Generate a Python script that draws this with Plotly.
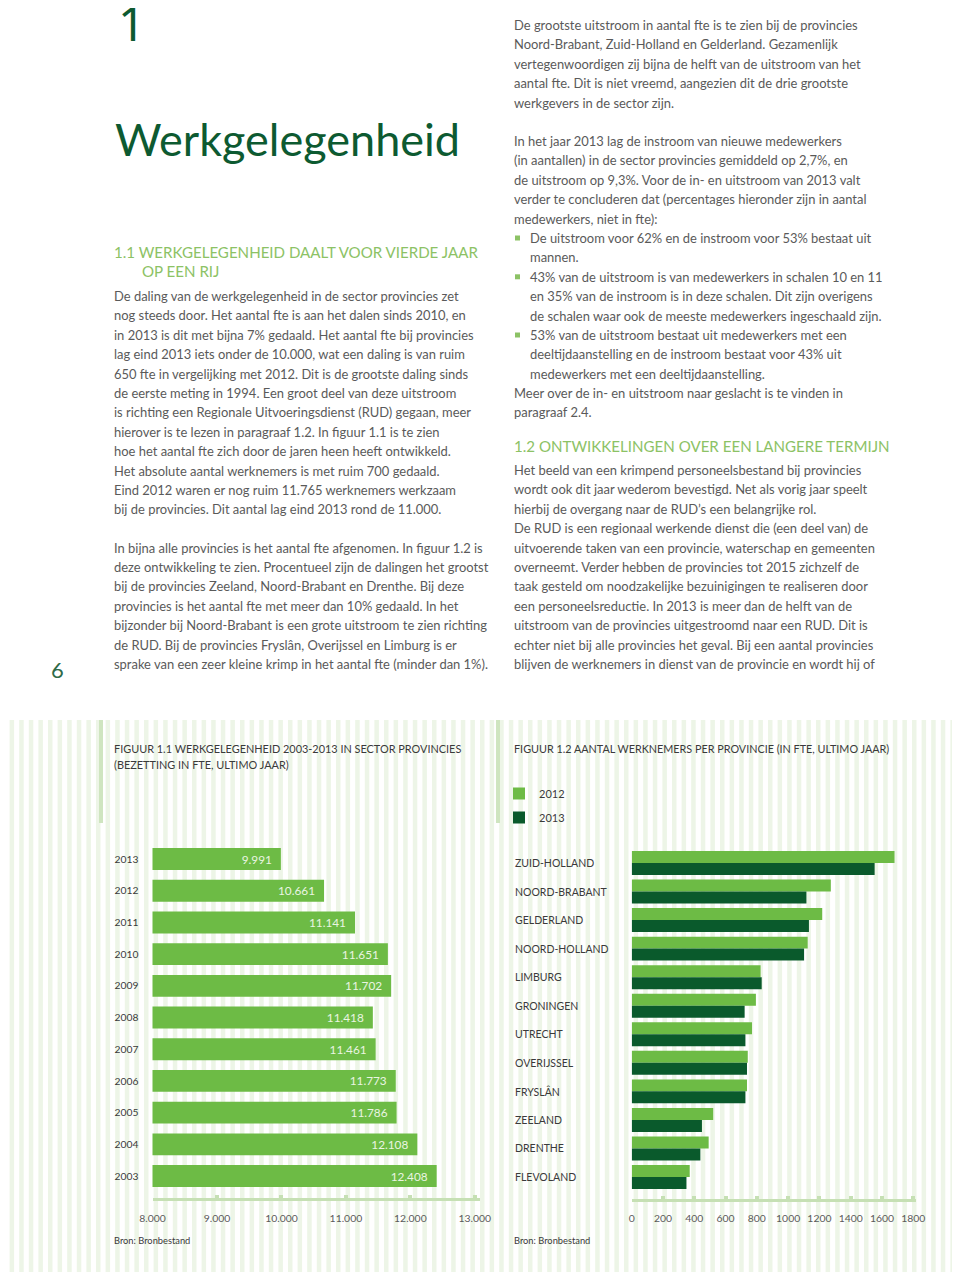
import plotly.graph_objects as go

W, H = 960, 1272
OFF = 8  # page body margin of the html page

# ---------------- data ----------------
years = ["2013", "2012", "2011", "2010", "2009", "2008", "2007", "2006", "2005", "2004", "2003"]
fte_total = [9991, 10661, 11141, 11651, 11702, 11418, 11461, 11773, 11786, 12108, 12408]
fte_labels = ["9.991", "10.661", "11.141", "11.651", "11.702", "11.418", "11.461",
              "11.773", "11.786", "12.108", "12.408"]
fig1_tickvals = [8000, 9000, 10000, 11000, 12000, 13000]
fig1_ticktext = ["8.000", "9.000", "10.000", "11.000", "12.000", "13.000"]

provinces = ["ZUID-HOLLAND", "NOORD-BRABANT", "GELDERLAND", "NOORD-HOLLAND", "LIMBURG",
             "GRONINGEN", "UTRECHT", "OVERIJSSEL", "FRYSLÂN", "ZEELAND", "DRENTHE", "FLEVOLAND"]
fte_2012 = [1680, 1273, 1218, 1125, 824, 794, 769, 742, 737, 521, 492, 371]
fte_2013 = [1553, 1117, 1133, 1102, 831, 722, 727, 737, 727, 449, 439, 350]
fig2_tickvals = [0, 200, 400, 600, 800, 1000, 1200, 1400, 1600, 1800]
fig2_ticktext = ["0", "200", "400", "600", "800", "1000", "1200", "1400", "1600", "1800"]

# ---------------- styles ----------------
LIGHT = "#6dbb45"
DARK = "#0a5a2c"
HEAD = "#0d5a31"
SUBHEAD = "#8cc265"
BODY = "#5a5a5a"
LABEL = "#3a3a3a"
AXIS = "#c6e0b4"
STRIPE = "#edf5e7"
FONT = "Lato"
BODY_SIZE = 12.95
CAPS_SIZE = 15.1


def px(x):
    return (x - OFF) / W


def py(y):
    return 1 - (y - OFF) / H


fig = go.Figure()

fig.add_trace(go.Bar(
    x=fte_total, y=years, orientation="h", marker=dict(color=LIGHT, line=dict(width=0)),
    width=0.69, xaxis="x", yaxis="y", showlegend=False, hoverinfo="skip",
    text=fte_labels, texttemplate="%{text}\u00a0\u00a0", textposition="inside",
    insidetextanchor="end", constraintext="none",
    textfont=dict(size=11.8, color="#eaf5e2", family=FONT)))

fig.add_trace(go.Bar(
    x=fte_2012, y=provinces, orientation="h", name="2012", legendgroup="a",
    marker=dict(color=LIGHT, line=dict(width=0)), xaxis="x2", yaxis="y2"))
fig.add_trace(go.Bar(
    x=fte_2013, y=provinces, orientation="h", name="2013", legendgroup="b",
    marker=dict(color=DARK, line=dict(width=0)), xaxis="x2", yaxis="y2"))

annotations = []


def txt(x, y, s, size=BODY_SIZE, color=BODY, family=FONT, anchor="left"):
    annotations.append(dict(x=px(x), y=py(y), xref="paper", yref="paper", text=s,
                            showarrow=False, xanchor=anchor, yanchor="middle", borderpad=0,
                            font=dict(size=size, color=color, family=family)))


# headings
txt(117, 22, "1", size=48, color=HEAD, family="Noto Sans")
txt(114, 139, "Werkgelegenheid", size=45, color=HEAD)
txt(113, 252, "1.1 WERKGELEGENHEID DAALT VOOR VIERDE JAAR", size=CAPS_SIZE, color=SUBHEAD)
txt(141, 271, "OP EEN RIJ", size=CAPS_SIZE, color=SUBHEAD)
txt(50, 669, "6", size=22, color="#2e6a48")

left_p1 = [
    "De daling van de werkgelegenheid in de sector provincies zet",
    "nog steeds door. Het aantal fte is aan het dalen sinds 2010, en",
    "in 2013 is dit met bijna 7% gedaald. Het aantal fte bij provincies",
    "lag eind 2013 iets onder de 10.000, wat een daling is van ruim",
    "650 fte in vergelijking met 2012. Dit is de grootste daling sinds",
    "de eerste meting in 1994. Een groot deel van deze uitstroom",
    "is richting een Regionale Uitvoeringsdienst (RUD) gegaan, meer",
    "hierover is te lezen in paragraaf 1.2. In figuur 1.1 is te zien",
    "hoe het aantal fte zich door de jaren heen heeft ontwikkeld.",
    "Het absolute aantal werknemers is met ruim 700 gedaald.",
    "Eind 2012 waren er nog ruim 11.765 werknemers werkzaam",
    "bij de provincies. Dit aantal lag eind 2013 rond de 11.000.",
]
left_p2 = [
    "In bijna alle provincies is het aantal fte afgenomen. In figuur 1.2 is",
    "deze ontwikkeling te zien. Procentueel zijn de dalingen het grootst",
    "bij de provincies Zeeland, Noord-Brabant en Drenthe. Bij deze",
    "provincies is het aantal fte met meer dan 10% gedaald. In het",
    "bijzonder bij Noord-Brabant is een grote uitstroom te zien richting",
    "de RUD. Bij de provincies Fryslân, Overijssel en Limburg is er",
    "sprake van een zeer kleine krimp in het aantal fte (minder dan 1%).",
]
STEP = 19.4
for i, s in enumerate(left_p1):
    txt(113, 296 + i * STEP, s)
for i, s in enumerate(left_p2):
    txt(113, 547.5 + i * STEP, s)

right_p1 = [
    "De grootste uitstroom in aantal fte is te zien bij de provincies",
    "Noord-Brabant, Zuid-Holland en Gelderland. Gezamenlijk",
    "vertegenwoordigen zij bijna de helft van de uitstroom van het",
    "aantal fte. Dit is niet vreemd, aangezien dit de drie grootste",
    "werkgevers in de sector zijn.",
]
right_p2 = [
    "In het jaar 2013 lag de instroom van nieuwe medewerkers",
    "(in aantallen) in de sector provincies gemiddeld op 2,7%, en",
    "de uitstroom op 9,3%. Voor de in- en uitstroom van 2013 valt",
    "verder te concluderen dat (percentages hieronder zijn in aantal",
    "medewerkers, niet in fte):",
]
bullets = [
    ("De uitstroom voor 62% en de instroom voor 53% bestaat uit", True),
    ("mannen.", False),
    ("43% van de uitstroom is van medewerkers in schalen 10 en 11", True),
    ("en 35% van de instroom is in deze schalen. Dit zijn overigens", False),
    ("de schalen waar ook de meeste medewerkers ingeschaald zijn.", False),
    ("53% van de uitstroom bestaat uit medewerkers met een", True),
    ("deeltijdaanstelling en de instroom bestaat voor 43% uit", False),
    ("medewerkers met een deeltijdaanstelling.", False),
]
right_p3 = [
    "Meer over de in- en uitstroom naar geslacht is te vinden in",
    "paragraaf 2.4.",
]
right_p4 = [
    "Het beeld van een krimpend personeelsbestand bij provincies",
    "wordt ook dit jaar wederom bevestigd. Net als vorig jaar speelt",
    "hierbij de overgang naar de RUD’s een belangrijke rol.",
    "De RUD is een regionaal werkende dienst die (een deel van) de",
    "uitvoerende taken van een provincie, waterschap en gemeenten",
    "overneemt. Verder hebben de provincies tot 2015 zichzelf de",
    "taak gesteld om noodzakelijke bezuinigingen te realiseren door",
    "een personeelsreductie. In 2013 is meer dan de helft van de",
    "uitstroom van de provincies uitgestroomd naar een RUD. Dit is",
    "echter niet bij alle provincies het geval. Bij een aantal provincies",
    "blijven de werknemers in dienst van de provincie en wordt hij of",
]
for i, s in enumerate(right_p1):
    txt(513, 25 + i * STEP, s)
for i, s in enumerate(right_p2):
    txt(513, 141 + i * STEP, s)
shapes = []
for i, (s, has_bullet) in enumerate(bullets):
    yy = 238 + i * STEP
    txt(529, yy, s)
    if has_bullet:
        shapes.append(dict(type="rect", xref="paper", yref="paper",
                           x0=px(515), x1=px(520), y0=py(yy + 2.5), y1=py(yy - 2.5),
                           fillcolor=SUBHEAD, line=dict(width=0), layer="above"))
for i, s in enumerate(right_p3):
    txt(513, 393 + i * STEP, s)
txt(513, 446, "1.2 ONTWIKKELINGEN OVER EEN LANGERE TERMIJN", size=CAPS_SIZE, color=SUBHEAD)
for i, s in enumerate(right_p4):
    txt(513, 470 + i * STEP, s)

# figure titles / sources
txt(113, 748, "FIGUUR 1.1 WERKGELEGENHEID 2003-2013 IN SECTOR PROVINCIES", size=10.9, color=LABEL)
txt(113, 764, "(BEZETTING IN FTE, ULTIMO JAAR)", size=10.9, color=LABEL)
txt(513, 748, "FIGUUR 1.2 AANTAL WERKNEMERS PER PROVINCIE (IN FTE, ULTIMO JAAR)", size=10.8, color=LABEL)
txt(113, 1240, "Bron: Bronbestand", size=9.3, color=LABEL)
txt(513, 1240, "Bron: Bronbestand", size=9.3, color=LABEL)

# province labels fig 1.2
for p in provinces:
    annotations.append(dict(x=px(514), y=p, xref="paper", yref="y2", text=p, showarrow=False,
                            xanchor="left", yanchor="middle", borderpad=0,
                            font=dict(size=10.5, color=LABEL, family=FONT)))

# background stripes (decoration)
x = 0.0
while x < W + OFF:
    shapes.append(dict(type="rect", xref="paper", yref="paper", x0=px(x), x1=px(x + 4.5),
                       y0=py(H + OFF), y1=py(720), fillcolor=STRIPE, line=dict(width=0),
                       layer="below"))
    x += 9.6
for x0 in (99, 496):
    shapes.append(dict(type="rect", xref="paper", yref="paper", x0=px(x0), x1=px(x0 + 4),
                       y0=py(823), y1=py(720), fillcolor="#cfe5c0", line=dict(width=0), layer="below"))

axis_common = dict(showgrid=False, zeroline=False, showline=True, linecolor=AXIS, linewidth=3,
                   ticks="inside", ticklen=3, tickwidth=4, tickcolor=AXIS, automargin=False,
                   tickfont=dict(size=10.4, color=BODY, family=FONT), ticklabelstandoff=8)

fig.update_layout(
    width=W, height=H,
    margin=dict(l=0, r=0, t=0, b=0, pad=0, autoexpand=False),
    paper_bgcolor="white", plot_bgcolor="rgba(0,0,0,0)",
    barmode="group", bargap=0.16, bargroupgap=0,
    font=dict(family=FONT, color=BODY),
    showlegend=True,
    legend=dict(x=px(499), y=py(779), xanchor="left", yanchor="top", xref="paper", yref="paper",
                bgcolor="rgba(0,0,0,0)", font=dict(size=11, color=LABEL, family=FONT),
                tracegroupgap=5, itemclick=False, itemdoubleclick=False),
    xaxis=dict(domain=[px(152.5), px(480)], range=[8000, 13080], anchor="y",
               tickvals=fig1_tickvals, ticktext=fig1_ticktext, **axis_common),
    yaxis=dict(domain=[py(1198.2), py(843.2)], type="category", categoryorder="array",
               categoryarray=years, range=[10.7, -0.5], anchor="x", showgrid=False,
               zeroline=False, showline=False, ticks="", automargin=False,
               tickfont=dict(size=10.3, color=LABEL, family=FONT), ticklabelstandoff=13),
    xaxis2=dict(domain=[px(631.7), px(916.4)], range=[0, 1820], anchor="y2",
                tickvals=fig2_tickvals, ticktext=fig2_ticktext, **axis_common),
    yaxis2=dict(domain=[py(1199), py(848.7)], type="category", categoryorder="array",
                categoryarray=provinces, range=[11.77, -0.5], anchor="x2", showgrid=False,
                zeroline=False, showline=False, ticks="", showticklabels=False,
                automargin=False),
    uniformtext=dict(mode=False),
    annotations=annotations,
    shapes=shapes,
)

fig.write_html("out.html")
